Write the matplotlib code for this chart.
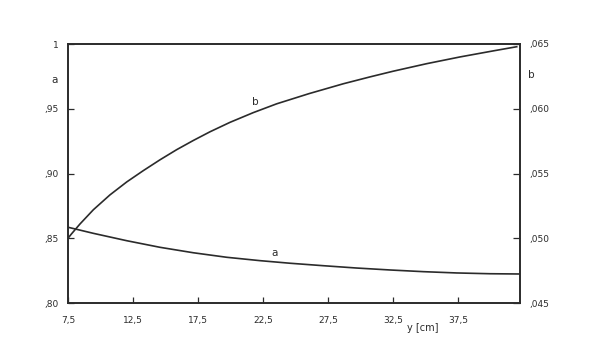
import matplotlib
matplotlib.use("Agg")
import matplotlib.pyplot as plt
from matplotlib.ticker import FixedLocator, FixedFormatter

# Valores (y em cm).
y_cm_b = [7.5, 7.78, 8.42, 9.45, 10.73, 12.02, 13.29, 14.58, 15.86, 17.14, 18.42,
          19.96, 21.75, 23.55, 26.05, 28.68, 30.73, 32.52, 35.09, 37.65, 40.22, 42.02]
curva_b = [0.0500, 0.05035, 0.05110, 0.05220, 0.05335, 0.05435, 0.05522, 0.05606,
           0.05684, 0.05755, 0.05822, 0.05895, 0.05970, 0.06038, 0.06117, 0.06193,
           0.06246, 0.06290, 0.06348, 0.06400, 0.06447, 0.06479]

y_cm_a = [7.5, 9.45, 12.02, 14.58, 17.14, 19.71, 22.27, 24.58, 27.14, 29.71,
          32.27, 34.83, 37.40, 39.96, 42.27]
curva_a = [0.8585, 0.8538, 0.8481, 0.8430, 0.8388, 0.8353, 0.8327, 0.8307, 0.8288,
           0.8270, 0.8255, 0.8242, 0.8232, 0.8226, 0.8224]

x_ticks = [7.5, 12.5, 17.5, 22.5, 27.5, 32.5, 37.5]
x_tick_labels = ["7,5", "12,5", "17,5", "22,5", "27,5", "32,5", "37,5"]
a_ticks = [0.80, 0.85, 0.90, 0.95, 1.0]
a_tick_labels = [",80", ",85", ",90", ",95", "1"]
b_ticks = [0.045, 0.050, 0.055, 0.060, 0.065]
b_tick_labels = [",045", ",050", ",055", ",060", ",065"]

COR = "#2b2b2b"
FONTE = 6.5

plt.rcParams["font.family"] = ["DejaVu Sans"]

fig = plt.figure(figsize=(5.95, 3.58), dpi=100)
ax = fig.add_axes([68 / 595, 1 - 303 / 358, (520 - 68) / 595, (303 - 44) / 358])
ax2 = ax.twinx()

# Curvas a (eixo esquerdo) e b (eixo direito).
ax.plot(y_cm_a, curva_a, color=COR, linewidth=1.2, solid_joinstyle="round")
ax2.plot(y_cm_b, curva_b, color=COR, linewidth=1.2, solid_joinstyle="round")

ax.set_xlim(7.5, 42.27)
ax.set_ylim(0.80, 1.0)
ax2.set_ylim(0.045, 0.065)

ax.xaxis.set_major_locator(FixedLocator(x_ticks))
ax.xaxis.set_major_formatter(FixedFormatter(x_tick_labels))
ax.yaxis.set_major_locator(FixedLocator(a_ticks))
ax.yaxis.set_major_formatter(FixedFormatter(a_tick_labels))
ax2.yaxis.set_major_locator(FixedLocator(b_ticks))
ax2.yaxis.set_major_formatter(FixedFormatter(b_tick_labels))

ax.tick_params(axis="both", direction="in", length=4, width=0.9, color=COR,
               labelsize=FONTE, labelcolor=COR, pad=7)
ax.tick_params(axis="x", pad=9)
ax2.tick_params(axis="y", direction="in", length=5, width=0.9, color=COR,
                labelsize=FONTE, labelcolor=COR, pad=7)

for eixo in (ax, ax2):
    for spine in eixo.spines.values():
        spine.set_color(COR)
        spine.set_linewidth(1.2)

# Rotulos dos eixos e das curvas.
fig.text(55 / 595, 1 - 80 / 358, "a", fontsize=7.5, color=COR, ha="center", va="center")
fig.text(531 / 595, 1 - 75 / 358, "b", fontsize=7.5, color=COR, ha="center", va="center")
fig.text(423 / 595, 1 - 328 / 358, "y [cm]", fontsize=7, color=COR, ha="center", va="center")
ax2.text(21.9, 0.0605, "b", fontsize=7.5, color=COR, ha="center", va="center")
ax.text(23.4, 0.8384, "a", fontsize=7.5, color=COR, ha="center", va="center")

fig.savefig("out.png", dpi=100, facecolor="white")
plt.close(fig)
